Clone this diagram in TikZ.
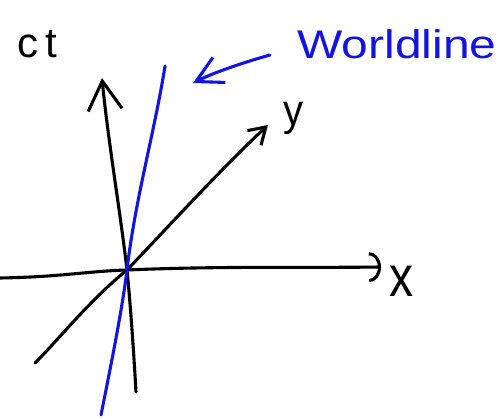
\documentclass[tikz,border=0pt]{standalone}
\usepackage{fontspec}
\setmainfont{Liberation Sans}
\usetikzlibrary{arrows.meta}
\definecolor{pen}{RGB}{20,20,225}
\begin{document}
\begin{tikzpicture}[x=1pt,y=-1pt,
  axis/.style={line width=3.1pt, black, line cap=round, line join=round},
  wline/.style={line width=3.1pt, pen, line cap=round, line join=round},
  lbl/.style={inner sep=0pt, black},
]
\useasboundingbox (0,0) rectangle (499,419);
% coordinates
\coordinate (O) at (127,270);
\coordinate (xl) at (0,278);
\coordinate (xr) at (381,267);
\coordinate (tb) at (136,392);
\coordinate (tt) at (102,78);
\coordinate (yb) at (35,363);
\coordinate (yt) at (268,125);
\coordinate (wb) at (101,415);
\coordinate (wt) at (165,66);
\coordinate (as) at (270,55);
\coordinate (ae) at (193,83);
% labels
\node[lbl, font=\fontsize{42}{42}\selectfont] (ct) at (37,44) {c\,t};
\node[lbl, font=\fontsize{48}{48}\selectfont, yscale=1.2] (xlab) at (401,281) {x};
\node[lbl, font=\fontsize{40}{40}\selectfont, yscale=1.1] (ylab) at (293,118) {y};
\node[lbl, text=pen, font=\fontsize{40}{40}\selectfont, xscale=1.2] (wlab) at (397,44) {Worldline};
% axes
\draw[axis, -{Arc Barb[length=12pt,width=30pt]}] (xl) .. controls (60,277) and (90,271) .. (O) .. controls (220,266) and (300,268) .. (xr);
\draw[axis, -{Straight Barb[length=29pt,width=34pt]}] (tb) .. controls (133,340) and (130,300) .. (O) .. controls (120,210) and (108,140) .. (tt);
\draw[axis, -{Straight Barb[length=16pt,width=20pt]}] (yb) .. controls (60,338) and (90,300) .. (O) .. controls (170,225) and (220,170) .. (yt);
% worldline
\draw[wline] (wb) .. controls (112,360) and (122,310) .. (O) .. controls (135,200) and (155,130) .. (wt);
\draw[wline, -{Straight Barb[length=26pt,width=28pt]}] (as) .. controls (245,62) and (215,72) .. (ae);
\end{tikzpicture}
\end{document}
